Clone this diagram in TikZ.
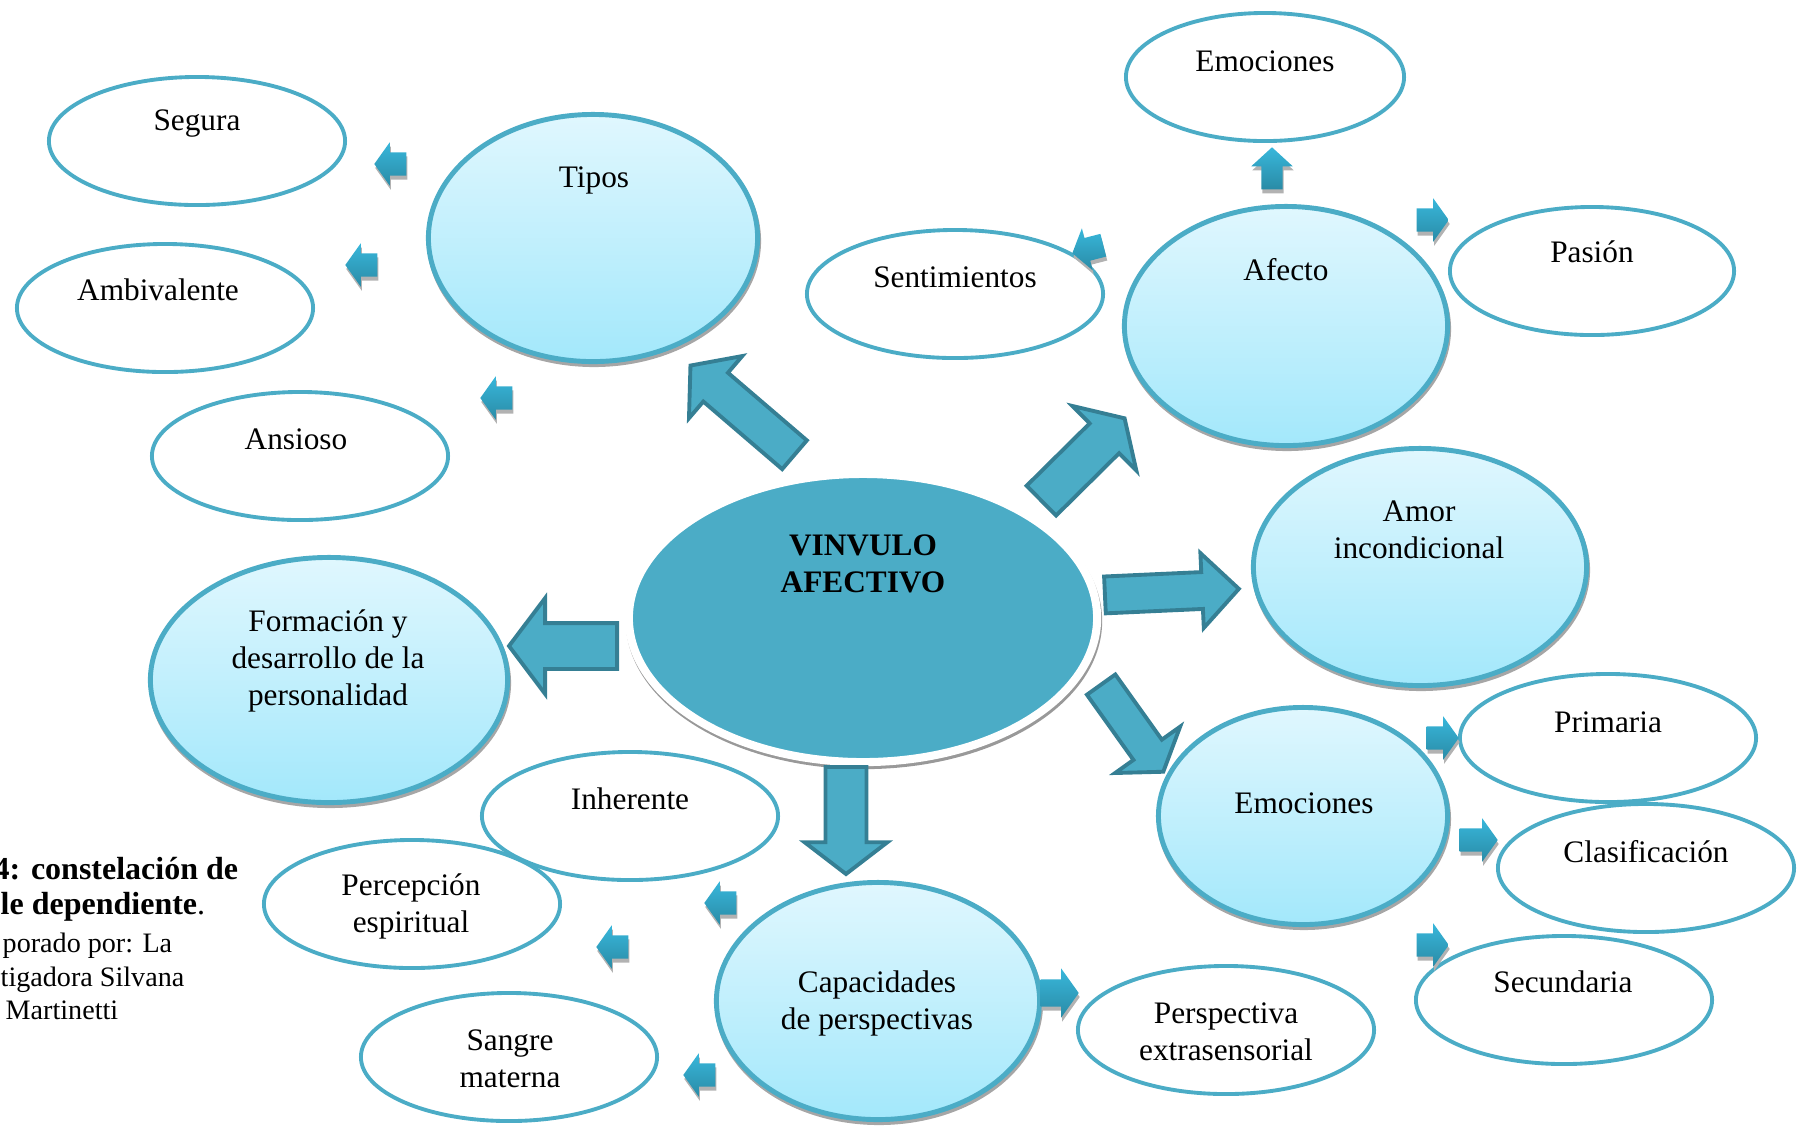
\documentclass[tikz,border=0pt]{standalone}
\usepackage{fontspec}
\setmainfont{Liberation Serif}
\usetikzlibrary{shapes.geometric,shapes.arrows,shadows}

\definecolor{aqua}{HTML}{4BACC6}
\definecolor{aquaosc}{HTML}{357F94}
\definecolor{celestearr}{HTML}{E0F7FE}
\definecolor{celesteab}{HTML}{A3E8FB}
\definecolor{flclaro}{HTML}{38B7DB}
\definecolor{floscuro}{HTML}{2A8BA6}

\tikzset{
  sombra/.style={drop shadow={shadow xshift=0.01cm, shadow yshift=-0.03cm,
      fill=gray!70, draw=gray!70, opacity=1}},
  burbuja/.style={ellipse, draw=aqua, line width=1.4pt, inner sep=0pt,
    top color=celestearr, bottom color=celesteab, sombra},
  ovalo/.style={ellipse, draw=aqua, line width=1.1pt, inner sep=0pt,
    minimum width=2.96cm, minimum height=1.28cm},
  texto/.style={font=\fontsize{8.9}{10.5}\selectfont, align=center, inner sep=0pt},
  flechota/.style={single arrow, draw=aquaosc, fill=aqua, line width=1.1pt,
    inner xsep=0pt, anchor=tail},
  flechita/.style={single arrow, inner xsep=0pt, inner ysep=0.11cm,
    single arrow head extend=0.10cm, single arrow tip angle=109,
    minimum height=0.32cm, anchor=tail, top color=flclaro, bottom color=floscuro,
    drop shadow={shadow xshift=0.01cm, shadow yshift=-0.04cm, fill=gray!60, opacity=1}},
  pie/.style={inner sep=0pt, anchor=base west}
}

\begin{document}
\begin{tikzpicture}[x=0.01cm, y=-0.01cm]
  \clip (0,0) rectangle (1805,1126);

  % Ovalos
  \node[ovalo] (segura) at (197,141) {};
  \node[ovalo] (ambivalente) at (165,308) {};
  \node[ovalo] (ansioso) at (300,456) {};
  \node[ovalo, minimum width=2.78cm] (emoc-sup) at (1265,77) {};
  \node[ovalo] (sentimientos) at (955,294) {};
  \node[ovalo, minimum width=2.84cm] (pasion) at (1592,271) {};
  \node[ovalo] (primaria) at (1608,738) {};
  \node[ovalo] (clasificacion) at (1646,868) {};
  \node[ovalo] (secundaria) at (1564,1000) {};
  \node[ovalo] (perspectiva) at (1226,1030) {};
  \node[ovalo] (inherente) at (630,816) {};
  \node[ovalo] (percepcion) at (412,904) {};
  \node[ovalo] (sangre) at (509,1057) {};

  % Burbujas
  \node[burbuja, minimum width=3.29cm, minimum height=2.47cm] (tipos) at (593,238) {};
  \node[burbuja, minimum width=3.23cm, minimum height=2.39cm] (afecto) at (1286,326) {};
  \node[burbuja, minimum width=3.33cm, minimum height=2.37cm] (amor) at (1420,567) {};
  \node[burbuja, minimum width=2.89cm, minimum height=2.17cm] (emociones) at (1303,816) {};
  \node[burbuja, minimum width=3.23cm, minimum height=2.37cm] (capacidades) at (878,1001) {};
  \node[burbuja, minimum width=3.57cm, minimum height=2.45cm] (formacion) at (329,680) {};

  % Centro
  \node[ellipse, fill=aqua, draw=white, line width=2.3pt, inner sep=0pt,
    minimum width=4.68cm, minimum height=2.88cm,
    drop shadow={shadow xshift=0.01cm, shadow yshift=-0.03cm,
      fill=gray!80, draw=gray!80, opacity=1}] (vinculo) at (863,618) {};

  % Flechas grandes
  \node[flechota, rotate=139.4, minimum height=1.37cm, inner ysep=0.17cm,
    single arrow head extend=0.22cm, single arrow tip angle=102] (f-tipos) at (796,456) {};
  \node[flechota, rotate=44.7, minimum height=1.17cm, inner ysep=0.19cm,
    single arrow head extend=0.245cm, single arrow tip angle=116] (f-afecto) at (1040,502) {};
  \node[flechota, rotate=2.6, minimum height=1.34cm, inner ysep=0.165cm,
    single arrow head extend=0.19cm, single arrow tip angle=91] (f-amor) at (1103,595) {};
  \node[flechota, rotate=-54.5, minimum height=1.07cm, inner ysep=0.155cm,
    single arrow head extend=0.225cm, single arrow tip angle=112] (f-emociones) at (1100,683) {};
  \node[flechota, rotate=-90, minimum height=1.07cm, inner ysep=0.185cm,
    single arrow head extend=0.21cm, single arrow tip angle=105] (f-capacidades) at (846,765) {};
  \node[flechota, rotate=180, minimum height=1.08cm, inner ysep=0.21cm,
    single arrow head extend=0.25cm, single arrow tip angle=106] (f-formacion) at (619,646) {};

  % Flechas chicas
  \node[flechita, rotate=180] (f-segura) at (407,164) {};
  \node[flechita, rotate=180] (f-ambivalente) at (378,265) {};
  \node[flechita, rotate=180] (f-ansioso) at (513,398) {};
  \node[flechita, rotate=90, minimum height=0.42cm, inner ysep=0.10cm,
    single arrow tip angle=95] (f-emoc-sup) at (1272,190) {};
  \node[flechita, rotate=194.5] (f-sentimientos) at (1104,245) {};
  \node[flechita] (f-pasion) at (1416,220) {};
  \node[flechita] (f-primaria) at (1426,738) {};
  \node[flechita, minimum height=0.38cm] (f-clasificacion) at (1459,840) {};
  \node[flechita] (f-secundaria) at (1416,945) {};
  \node[flechita, minimum height=0.38cm, inner ysep=0.13cm,
    single arrow head extend=0.11cm] (f-perspectiva) at (1040,993) {};
  \node[flechita, rotate=180] (f-inherente) at (737,903) {};
  \node[flechita, rotate=180] (f-percepcion) at (629,947) {};
  \node[flechita, rotate=180] (f-sangre) at (716,1075) {};

  % Textos
  \node[texto, font=\fontsize{8.9}{10.5}\selectfont\bfseries] (t-vinculo) at (863,564) {VINVULO\\AFECTIVO};
  \node[texto] (t-tipos) at (594,180) {Tipos};
  \node[texto] (t-afecto) at (1286,270) {Afecto};
  \node[texto] (t-amor) at (1419,530) {Amor\\incondicional};
  \node[texto] (t-emociones) at (1304,803) {Emociones};
  \node[texto] (t-capacidades) at (877,1003) {Capacidades\\de perspectivas};
  \node[texto] (t-formacion) at (328,661) {Formación y\\desarrollo de la\\personalidad};
  \node[texto] (t-segura) at (197,124) {Segura};
  \node[texto] (t-ambivalente) at (158,290) {Ambivalente};
  \node[texto] (t-ansioso) at (296,439) {Ansioso};
  \node[texto] (t-emoc-sup) at (1265,61) {Emociones};
  \node[texto] (t-sentimientos) at (955,277) {Sentimientos};
  \node[texto] (t-pasion) at (1592,252) {Pasión};
  \node[texto] (t-primaria) at (1608,722) {Primaria};
  \node[texto] (t-clasificacion) at (1646,852) {Clasificación};
  \node[texto] (t-secundaria) at (1563,982) {Secundaria};
  \node[texto] (t-perspectiva) at (1226,1032) {Perspectiva\\extrasensorial};
  \node[texto] (t-inherente) at (630,799) {Inherente};
  \node[texto] (t-percepcion) at (411,906) {Percepción\\espiritual};
  \node[texto] (t-sangre) at (510,1059) {Sangre\\materna};

  % Pie
  \node[pie, font=\fontsize{9.1}{11}\selectfont\bfseries] (pie1) at (-7,879) {4: constelación de};
  \node[pie, font=\fontsize{9.1}{11}\selectfont] (pie2) at (0,914) {\textbf{le dependiente}.};
  \node[pie, font=\fontsize{8}{9.5}\selectfont] (pie3) at (2,952) {porado por: La};
  \node[pie, font=\fontsize{8}{9.5}\selectfont] (pie4) at (0,986) {tigadora Silvana};
  \node[pie, font=\fontsize{8}{9.5}\selectfont] (pie5) at (5,1019) {Martinetti};
\end{tikzpicture}
\end{document}
